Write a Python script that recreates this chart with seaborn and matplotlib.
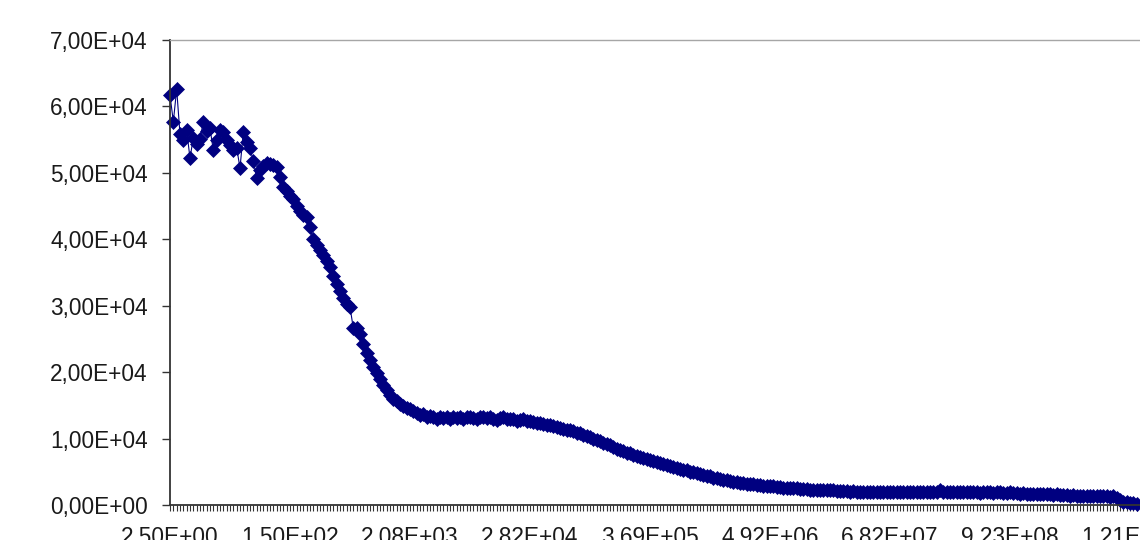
import matplotlib
matplotlib.use("Agg")
import matplotlib.pyplot as plt
import seaborn as sns
import pandas as pd

# ---- data ----
values = [
    61700, 57700, 62600, 55800, 54900, 56400, 52200, 55300, 54400, 55100,
    57700, 56300, 56700, 53400, 55000, 56400, 56200, 55000, 54200, 53400,
    53800, 50700, 56200, 54700, 53700, 51800, 49200, 50400, 51000, 51500,
    51400, 51200, 50900, 49400, 47800, 47200, 46500, 46000, 45000, 44200,
    43600, 43300, 41800, 40000, 39200, 38400, 37700, 36800, 35800, 34400,
    33300, 32200, 31200, 30300, 29800, 26600, 26700, 25800, 24200, 22900,
    21900, 20800, 19800, 19000, 18000, 17300, 16600, 16000, 15600, 15200,
    14900, 14600, 14400, 14100, 13900, 13600, 13700, 13300, 13400, 13200,
    13000, 13300, 13100, 13200, 13000, 13300, 13100, 13200, 13000, 13200,
    13300, 13100, 13000, 13200, 13300, 13100, 13200, 13000, 12800, 13100,
    13200, 13000, 12900, 13000, 12700, 12800, 12900, 12600, 12600, 12500,
    12300, 12400, 12200, 12100, 12000, 11900, 11700, 11600, 11500, 11300,
    11300, 11100, 10900, 10800, 10600, 10400, 10200, 10000, 9800, 9600,
    9400, 9200, 9000, 8700, 8500, 8300, 8100, 7900, 7800, 7600,
    7400, 7200, 7100, 6900, 6700, 6600, 6400, 6300, 6100, 6000,
    5800, 5700, 5500, 5400, 5300, 5200, 5000, 4900, 4800, 4700,
    4500, 4400, 4300, 4100, 4000, 3900, 3800, 3700, 3600, 3500,
    3400, 3300, 3300, 3200, 3100, 3100, 3000, 3000, 2900, 2900,
    2800, 2800, 2700, 2700, 2600, 2600, 2600, 2500, 2500, 2400,
    2400, 2400, 2300, 2300, 2300, 2300, 2200, 2200, 2200, 2200,
    2100, 2100, 2100, 2100, 2000, 2100, 2000, 2000, 2000, 2000,
    2000, 2000, 1900, 2000, 2000, 1900, 2000, 2000, 2000, 1900,
    2000, 2000, 1900, 2000, 2000, 2000, 1900, 2000, 2000, 1900,
    2000, 2200, 2000, 1900, 2000, 2000, 1900, 2000, 1900, 2000,
    1900, 2000, 1900, 1800, 2000, 1900, 1900, 1800, 1900, 1900,
    1800, 1800, 1900, 1800, 1800, 1700, 1800, 1700, 1700, 1700,
    1600, 1700, 1600, 1600, 1600, 1500, 1600, 1500, 1500, 1500,
    1400, 1500, 1400, 1400, 1400, 1300, 1400, 1400, 1300, 1300,
    1300, 1300, 1200, 1300, 1100, 700, 500, 400, 300, 300, 200,
]
x_labels = ["2,50E+00", "1,50E+02", "2,08E+03", "2,82E+04", "3,69E+05",
            "4,92E+06", "6,82E+07", "9,23E+08", "1,21E+10"]
y_ticks = [0, 10000, 20000, 30000, 40000, 50000, 60000, 70000]
y_tick_labels = ["0,00E+00", "1,00E+04", "2,00E+04", "3,00E+04",
                 "4,00E+04", "5,00E+04", "6,00E+04", "7,00E+04"]
label_every = 36

# ---- style ----
sns.set_theme(style="white")
plt.rcParams["font.family"] = ["Liberation Sans", "DejaVu Sans"]

n = len(values)
df = pd.DataFrame({"idx": range(n), "val": values})

fig = plt.figure(figsize=(11.4, 5.4), dpi=100)
ax = fig.add_axes([170 / 1140, 35 / 540, 980 / 1140, 465 / 540])

navy = "#000080"
sns.lineplot(data=df, x="idx", y="val", ax=ax, color=navy, linewidth=0.8,
             marker="D", markersize=6.8, markeredgewidth=0.5,
             markeredgecolor=navy, clip_on=False)

ax.set_xlim(0, 294)
ax.set_ylim(0, 70000)
ax.set_xlabel("")
ax.set_ylabel("")

ticklabels = [""] * n
for k, lab in enumerate(x_labels):
    ticklabels[k * label_every] = lab
ax.set_xticks(range(n))
ax.set_xticklabels(ticklabels)
ax.set_yticks(y_ticks)
ax.set_yticklabels(y_tick_labels)

txt = "#1a1a1a"
ax.tick_params(axis="y", which="major", left=True, length=6, width=1.0,
               color="#333333", pad=10, labelsize=16.3, labelcolor=txt)
ax.tick_params(axis="x", which="major", bottom=True, length=4.5, width=0.8,
               color="#333333", pad=10.5, labelsize=16.3, labelcolor=txt)

for side in ["left", "bottom"]:
    ax.spines[side].set_color("#333333")
    ax.spines[side].set_linewidth(1.3)
ax.spines["top"].set_color("#a6a6a6")
ax.spines["top"].set_linewidth(1.0)
ax.spines["right"].set_visible(False)
ax.grid(False)

fig.savefig("out.png", dpi=100)
